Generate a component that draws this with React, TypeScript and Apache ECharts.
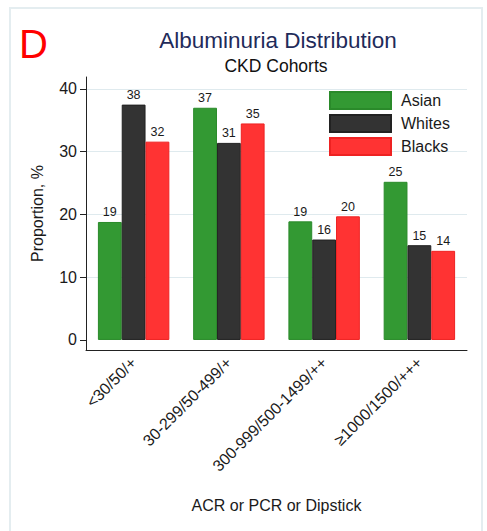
import React, { useEffect, useRef } from "react";
import * as echarts from "echarts";

const categories = ["<30/50/+", "30-299/50-499/+", "300-999/500-1499/++", "≥1000/1500/+++"];
const asian = [18.8, 37.0, 18.9, 25.2];
const whites = [37.5, 31.4, 16.0, 15.1];
const blacks = [31.6, 34.5, 19.7, 14.2];
const yTicks = [0, 10, 20, 30, 40];

const FONT = "'Liberation Sans', Arial, sans-serif";
const TXT = "#1a1a1a";

export default function App() {
  const ref = useRef<HTMLDivElement>(null);
  useEffect(() => {
    if (!ref.current) return;
    const chart = echarts.init(ref.current, null, { renderer: "svg" });
    const mk = (name: string, data: number[], color: string, border: string) => ({
      name,
      type: "bar",
      data,
      barGap: "0%",
      barCategoryGap: "25%",
      itemStyle: { color, borderColor: border, borderWidth: 1 },
      label: {
        show: true,
        position: "top",
        distance: 3,
        fontSize: 12.5,
        fontFamily: FONT,
        color: TXT,
        formatter: (p: any) => String(Math.round(p.value)),
      },
    });
    chart.setOption({
      animation: false,
      backgroundColor: "#ffffff",
      textStyle: { fontFamily: FONT },
      grid: { left: 86, right: 20, top: 77, bottom: 181, containLabel: false },
      legend: {
        orient: "vertical",
        left: 324,
        top: 86,
        itemWidth: 61,
        itemHeight: 17,
        itemGap: 4,
        icon: "rect",
        textStyle: { fontSize: 16, fontFamily: FONT, color: TXT, padding: [0, 0, 0, 5], lineHeight: 17 },
        data: ["Asian", "Whites", "Blacks"],
      },
      xAxis: {
        type: "category",
        data: categories,
        axisLine: { onZero: false, lineStyle: { color: "#222", width: 1 } },
        axisTick: { alignWithLabel: true, length: 6, lineStyle: { color: "#555" } },
        axisLabel: { rotate: 45, fontSize: 16, fontFamily: FONT, color: TXT, margin: 10, interval: 0 },
        name: "ACR or PCR or Dipstick",
        nameLocation: "middle",
        nameGap: 147,
        nameTextStyle: { fontSize: 16, fontFamily: FONT, color: TXT },
      },
      yAxis: {
        type: "value",
        min: -1.6,
        max: 41.9,
        axisLine: { show: true, lineStyle: { color: "#222", width: 1 } },
        axisTick: { show: true, length: 6, customValues: yTicks, lineStyle: { color: "#222" } },
        axisLabel: { fontSize: 16, fontFamily: FONT, color: TXT, margin: 9, customValues: yTicks },
        splitLine: {
          show: true,
          lineStyle: { color: ["rgba(0,0,0,0)", "#dfeaee", "#dfeaee", "#dfeaee", "#dfeaee"], width: 1 },
        },
        name: "Proportion, %",
        nameLocation: "middle",
        nameGap: 41,
        nameTextStyle: { fontSize: 16, fontFamily: FONT, color: TXT },
      },
      graphic: [
        {
          type: "rect",
          shape: { x: 10, y: 8, width: 472, height: 600 },
          style: { fill: "none", stroke: "#e4edf0", lineWidth: 2 },
          silent: true,
        },
        {
          type: "text",
          x: 19,
          y: 44,
          style: { text: "D", fontSize: 40, fontFamily: FONT, fill: "#ff0000", textAlign: "left", textVerticalAlign: "middle" },
        },
        {
          type: "text",
          x: 278,
          y: 40,
          style: { text: "Albuminuria Distribution", fontSize: 22.5, fontFamily: FONT, fill: "#1f2b5a", textAlign: "center", textVerticalAlign: "middle" },
        },
        {
          type: "text",
          x: 276,
          y: 66,
          style: { text: "CKD Cohorts", fontSize: 17.5, fontFamily: FONT, fill: "#111111", textAlign: "center", textVerticalAlign: "middle" },
        },
      ],
      series: [
        mk("Asian", asian, "#339933", "#2a8a2a"),
        mk("Whites", whites, "#333333", "#222222"),
        mk("Blacks", blacks, "#ff3333", "#ee2222"),
      ],
    });
    return () => chart.dispose();
  }, []);
  return <div ref={ref} style={{ position: "fixed", left: 0, top: 0, width: 487, height: 531 }} />;
}
